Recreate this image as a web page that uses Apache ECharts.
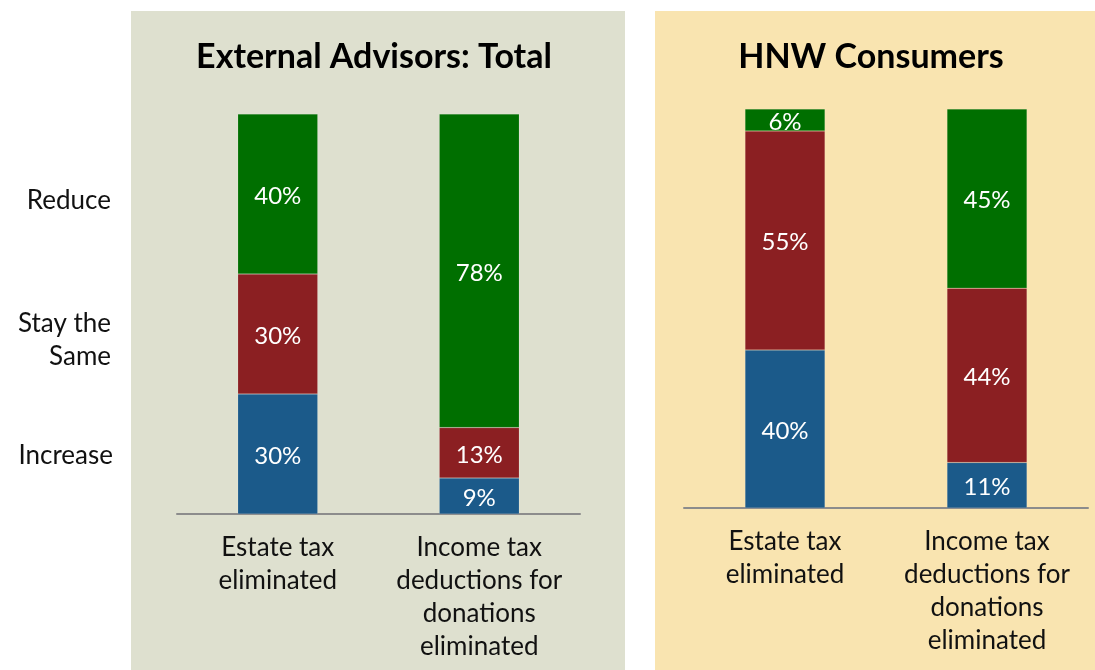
<!DOCTYPE html>
<html>
<head>
<meta charset="utf-8">
<script src="https://cdn.jsdelivr.net/npm/echarts@6/dist/echarts.min.js"></script>
<style>
html,body{margin:0;padding:0;background:#fff;}
#chart{width:1095px;height:670px;}
</style>
</head>
<body>
<div id="chart"></div>
<script>
// ---- data ----
const categories = ['Estate tax\neliminated', 'Income tax\ndeductions for\ndonations\neliminated'];
const panelTitles = ['External Advisors: Total', 'HNW Consumers'];
const seriesNames = ['Increase', 'Stay the Same', 'Reduce'];
const legendLabels = ['Reduce', 'Stay the\nSame', 'Increase'];
const advisorsIncrease = [30, 9.0];
const advisorsSame = [30, 12.6];
const advisorsReduce = [40, 78.4];
const consumersIncrease = [39.6, 11.4];
const consumersSame = [54.9, 43.7];
const consumersReduce = [5.5, 44.9];

const colors = ['#1b5a8a', '#8b1f22', '#006f00'];
const FONT = 'Lato, "Open Sans", sans-serif';

function mkSeries(name, data, idx, color, stack) {
  return {
    name: name, type: 'bar', stack: stack, xAxisIndex: idx, yAxisIndex: idx,
    data: data, barWidth: 80,
    itemStyle: { color: color, borderColor: 'rgba(255,255,255,0.25)', borderWidth: 0.5 },
    label: {
      show: true, position: 'inside', color: '#ffffff', fontSize: 24, fontFamily: FONT,
      offset: [0, 2],
      formatter: p => Math.round(p.value) + '%'
    }
  };
}

const chart = echarts.init(document.getElementById('chart'), null, { renderer: 'canvas' });
const xAxisCommon = {
  type: 'category', data: categories,
  axisLine: { lineStyle: { color: '#8c8c8c', width: 2 } },
  axisTick: { show: false },
  axisLabel: { color: '#111', fontSize: 26, lineHeight: 33, fontFamily: FONT, margin: 17, interval: 0 }
};
const yAxisCommon = { type: 'value', min: 0, max: 100, show: false, splitLine: { show: false } };

chart.setOption({
  animation: false,
  backgroundColor: '#ffffff',
  title: [
    { text: panelTitles[0], left: 369, top: 35, textAlign: 'center',
      textStyle: { fontSize: 34, fontWeight: 'bold', color: '#000', fontFamily: FONT } },
    { text: panelTitles[1], left: 866, top: 35, textAlign: 'center',
      textStyle: { fontSize: 34, fontWeight: 'bold', color: '#000', fontFamily: FONT } }
  ],
  graphic: [
    { type: 'rect', z: -10, shape: { x: 131, y: 11, width: 494, height: 659 }, style: { fill: '#dee0cf' } },
    { type: 'rect', z: -10, shape: { x: 655, y: 11, width: 440, height: 659 }, style: { fill: '#f9e4b0' } },
    { type: 'text', right: 1095 - 111, top: 188, style: { text: legendLabels[0], font: '26px ' + FONT, fill: '#111', textAlign: 'right' } },
    { type: 'text', right: 1095 - 111, top: 307, style: { text: legendLabels[1], font: '26px ' + FONT, fill: '#111', textAlign: 'right', lineHeight: 33 } },
    { type: 'text', right: 1095 - 113, top: 443, style: { text: legendLabels[2], font: '26px ' + FONT, fill: '#111', textAlign: 'right' } }
  ],
  grid: [
    { left: 177, width: 403, top: 114, height: 400 },
    { left: 684, width: 404, top: 109, height: 399 }
  ],
  xAxis: [
    Object.assign({ gridIndex: 0 }, xAxisCommon),
    Object.assign({ gridIndex: 1 }, xAxisCommon)
  ],
  yAxis: [
    Object.assign({ gridIndex: 0 }, yAxisCommon),
    Object.assign({ gridIndex: 1 }, yAxisCommon)
  ],
  series: [
    mkSeries(seriesNames[0], advisorsIncrease, 0, colors[0], 'a'),
    mkSeries(seriesNames[1], advisorsSame, 0, colors[1], 'a'),
    mkSeries(seriesNames[2], advisorsReduce, 0, colors[2], 'a'),
    mkSeries(seriesNames[0], consumersIncrease, 1, colors[0], 'c'),
    mkSeries(seriesNames[1], consumersSame, 1, colors[1], 'c'),
    mkSeries(seriesNames[2], consumersReduce, 1, colors[2], 'c')
  ]
});
</script>
</body>
</html>
